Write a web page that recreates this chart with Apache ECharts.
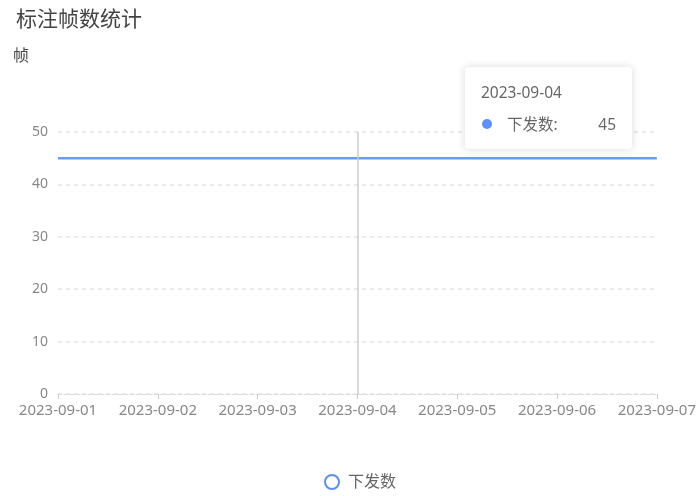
<!DOCTYPE html>
<html><head><meta charset="utf-8">
<script src="https://cdn.jsdelivr.net/npm/echarts@6/dist/echarts.min.js"></script>
<style>html,body{margin:0;padding:0;background:#fff}#c{width:699px;height:496px}</style>
</head><body><div id="c"></div>
<script>
const titleText = '标注帧数统计';
const yName = '帧';
const categories = ['2023-09-01','2023-09-02','2023-09-03','2023-09-04','2023-09-05','2023-09-06','2023-09-07'];
const seriesName = '下发数';
const seriesValues = [45,45,45,45,45,45,45];
const FONT = '"Noto Sans", "Noto Sans CJK SC", sans-serif';
const chart = echarts.init(document.getElementById('c'));
chart.setOption({
  textStyle:{fontFamily:FONT},
  animation:false,
  title:{text:titleText,left:11,top:5,textStyle:{fontSize:21,fontWeight:'normal',color:'#444',fontFamily:FONT}},
  legend:{bottom:1,left:319,icon:'emptyCircle',itemWidth:14,itemHeight:14,itemGap:10,data:[seriesName],textStyle:{fontSize:16,color:'#666',fontFamily:FONT,padding:[0,0,0,4]}},
  grid:{left:58,right:42,top:132,bottom:102},
  tooltip:{trigger:'axis',alwaysShowContent:true,
    axisPointer:{type:'line',lineStyle:{color:'#ccc',width:1.5,type:'solid'}},
    position:function(){return [465,67];},
    backgroundColor:'#fff',borderWidth:0,padding:[13,16,13,16],
    extraCssText:'box-shadow:0 0 8px rgba(0,0,0,0.15);border-radius:4px;width:135px;',
    formatter:function(p){
      const it=p[0];
      return '<div style="font-family:'+FONT.replace(/"/g,"'")+';font-size:15.5px;color:#666;line-height:24px">'+it.axisValue+'</div>'+
      '<div style="font-family:'+FONT.replace(/"/g,"'")+';font-size:15.5px;color:#666;margin-top:8px;line-height:24px;display:flex;align-items:center">'+
      '<span style="display:inline-block;width:10px;height:10px;border-radius:5px;background:#5B8FF9;margin:0 15px 0 1px"></span>'+
      '<span>'+it.seriesName+':</span><span style="margin-left:auto">'+it.value+'</span></div>';
    }
  },
  xAxis:{type:'category',boundaryGap:false,data:categories,
    axisLine:{show:true,lineStyle:{color:'#ddd',type:'dashed'}},
    axisTick:{show:true,alignWithLabel:true,interval:0,lineStyle:{color:'#ccc'}},
    axisLabel:{color:'#888',fontSize:15,margin:9,interval:0,hideOverlap:false,fontFamily:FONT}},
  yAxis:{type:'value',min:0,max:50,interval:10,name:yName,nameLocation:'end',nameGap:68,
    nameTextStyle:{color:'#444',fontSize:16,align:'right',padding:[0,29,0,0],fontFamily:FONT},
    axisLabel:{color:'#888',fontSize:14,margin:10,fontFamily:FONT},
    axisLine:{show:false},axisTick:{show:false},
    splitLine:{lineStyle:{color:'#e3e3e3',type:[4,4],width:1.5}}},
  series:[{name:seriesName,type:'line',data:seriesValues,symbol:'none',showSymbol:false,
    lineStyle:{color:'#5B8FF9',width:2.5},itemStyle:{color:'#5B8FF9'}}]
});
chart.dispatchAction({type:'showTip',seriesIndex:0,dataIndex:3});
</script></body></html>
